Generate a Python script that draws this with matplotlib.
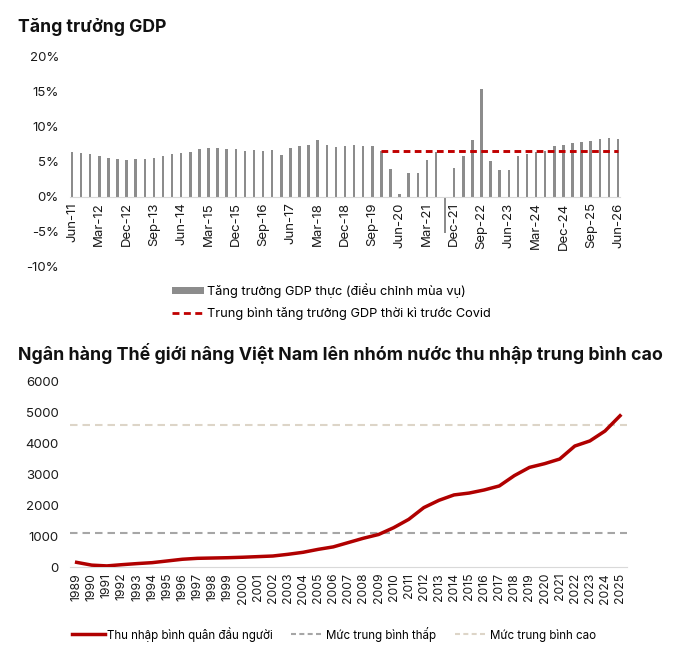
import matplotlib
matplotlib.use("Agg")
import matplotlib.pyplot as plt
import numpy as np
from matplotlib.lines import Line2D
from matplotlib.patches import Patch

plt.rcParams['font.family'] = ['Inter', 'DejaVu Sans']

# ---------- Top chart data ----------
gdp_growth = [6.43, 6.24, 6.05, 5.76, 5.57, 5.38, 5.24, 5.38, 5.38, 5.57,
              5.76, 6.05, 6.24, 6.43, 6.76, 6.95, 6.95, 6.86, 6.76, 6.52,
              6.67, 6.52, 6.67, 5.95, 6.95, 7.24, 7.33, 8.14, 7.33, 7.14,
              7.24, 7.43, 7.24, 7.24, 6.52, 3.95, 0.43, 3.43, 3.33, 5.24,
              6.43, -5.24, 4.14, 5.76, 8.14, 15.33, 5.14, 3.86, 3.76, 5.76,
              6.14, 6.43, 6.5, 7.24, 7.33, 7.62, 7.81, 7.95, 8.24, 8.33, 8.24]
top_tick_labels = ["Jun-11", "Mar-12", "Dec-12", "Sep-13", "Jun-14", "Mar-15",
                   "Dec-15", "Sep-16", "Jun-17", "Mar-18", "Dec-18", "Sep-19",
                   "Jun-20", "Mar-21", "Dec-21", "Sep-22", "Jun-23", "Mar-24",
                   "Dec-24", "Sep-25", "Jun-26"]
precovid_avg = 6.52
avg_start_index = 34  # Dec-19
yticks_top = [-10, -5, 0, 5, 10, 15, 20]

# ---------- Bottom chart data ----------
years = list(range(1989, 2026))
gdp_per_capita = [160, 70, 45, 85, 120, 150, 205, 260, 290, 300,
                  310, 325, 345, 365, 420, 485, 580, 660, 800, 940,
                  1060, 1280, 1550, 1930, 2165, 2340, 2400, 2500, 2630, 2965,
                  3230, 3350, 3500, 3920, 4085, 4405, 4900]
low_middle = 1110
upper_middle = 4590

fig = plt.figure(figsize=(6.77, 6.49), dpi=100)
W, H = 677, 649

def axes_px(left, top, right, bottom):
    return fig.add_axes([left / W, 1 - bottom / H, (right - left) / W, (bottom - top) / H])

BAR = '#8c8c8c'
RED_DASH = '#c00000'
LINE_RED = '#b00000'
LOW_C = '#a6a6a6'
HIGH_C = '#ddd5c8'
DASH_TOP = (0, (2.3, 1.5))
DASH_BOT = (0, (3.6, 2.4))

# ---------- Top axes ----------
ax1 = axes_px(70, 56.7, 620, 266.7)
for s in ['top', 'right', 'left']:
    ax1.spines[s].set_visible(False)
ax1.spines['bottom'].set_position(('data', 0))
ax1.spines['bottom'].set_color('#d9d9d9')

x = np.arange(len(gdp_growth))
ax1.bar(x, gdp_growth, width=0.28, color=BAR, zorder=2)
ax1.hlines(precovid_avg, avg_start_index, len(gdp_growth) - 1, colors=RED_DASH,
           linestyles=DASH_TOP, linewidth=2.1, zorder=3)
ax1.set_xlim(-0.22, len(gdp_growth) - 1 + 0.22)
ax1.set_ylim(-10, 20)
ax1.set_yticks(yticks_top)
ax1.set_yticklabels([f"{v}%" for v in yticks_top])
ax1.set_xticks(x[::3])
ax1.set_xticklabels(top_tick_labels, rotation=90)
ax1.tick_params(axis='both', length=0, labelsize=9.5, colors='#1a1a1a')
ax1.tick_params(axis='x', pad=4)
ax1.tick_params(axis='y', pad=8)

fig.text(18 / W, 1 - 27 / H, "Tăng trưởng GDP", fontsize=12.7, fontweight='bold',
         va='center', ha='left', color='#111111')

# Top legend
handles_top = [Patch(facecolor=BAR, edgecolor='none'),
               Line2D([], [], color=RED_DASH, linestyle=(0, (2.5, 1.6)), linewidth=2)]
fig.legend(handles_top,
           ["Tăng trưởng GDP thực (điều chỉnh mùa vụ)",
            "Trung bình tăng trưởng GDP thời kì trước Covid"],
           loc='upper left', bbox_to_anchor=(171.7 / W, 1 - 283 / H), frameon=False,
           fontsize=9.2, handlelength=2.5, handleheight=0.45, handletextpad=0.25,
           labelspacing=0.75, borderaxespad=0, borderpad=0)

# ---------- Bottom axes ----------
ax2 = axes_px(70, 381.7, 626.7, 567.3)
ax2.axhline(low_middle, color=LOW_C, linestyle=DASH_BOT, linewidth=1.5, zorder=1)
ax2.axhline(upper_middle, color=HIGH_C, linestyle=DASH_BOT, linewidth=1.5, zorder=1)
ax2.plot(years, gdp_per_capita, color=LINE_RED, linewidth=2.5, zorder=3,
         solid_joinstyle='round')
ax2.set_xlim(years[0] - 0.44, years[-1] + 0.44)
ax2.set_ylim(0, 6000)
ax2.set_yticks(range(0, 6001, 1000))
ax2.set_xticks(years)
ax2.set_xticklabels([str(y) for y in years], rotation=90)
for s in ['top', 'right', 'left']:
    ax2.spines[s].set_visible(False)
ax2.spines['bottom'].set_color('#d9d9d9')
ax2.tick_params(axis='both', length=0, colors='#1a1a1a')
ax2.tick_params(axis='y', labelsize=9.5, pad=8)
ax2.tick_params(axis='x', labelsize=8.8, pad=4)

fig.text(18 / W, 1 - 353 / H,
         "Ngân hàng Thế giới nâng Việt Nam lên nhóm nước thu nhập trung bình cao",
         fontsize=12.8, fontweight='bold', va='center', ha='left', color='#111111')

handles_bot = [Line2D([], [], color=LINE_RED, linewidth=2.5),
               Line2D([], [], color=LOW_C, linestyle=(0, (2.4, 1.6)), linewidth=1.5),
               Line2D([], [], color=HIGH_C, linestyle=(0, (2.4, 1.6)), linewidth=1.5)]
fig.legend(handles_bot,
           ["Thu nhập bình quân đầu người", "Mức trung bình thấp", "Mức trung bình cao"],
           loc='center left', bbox_to_anchor=(71.7 / W, 1 - 634 / H), ncol=3, frameon=False,
           fontsize=8.3, handlelength=2.9, handletextpad=0.15, columnspacing=1.6,
           borderaxespad=0, borderpad=0)

fig.savefig("out.png", dpi=100, facecolor='white')
